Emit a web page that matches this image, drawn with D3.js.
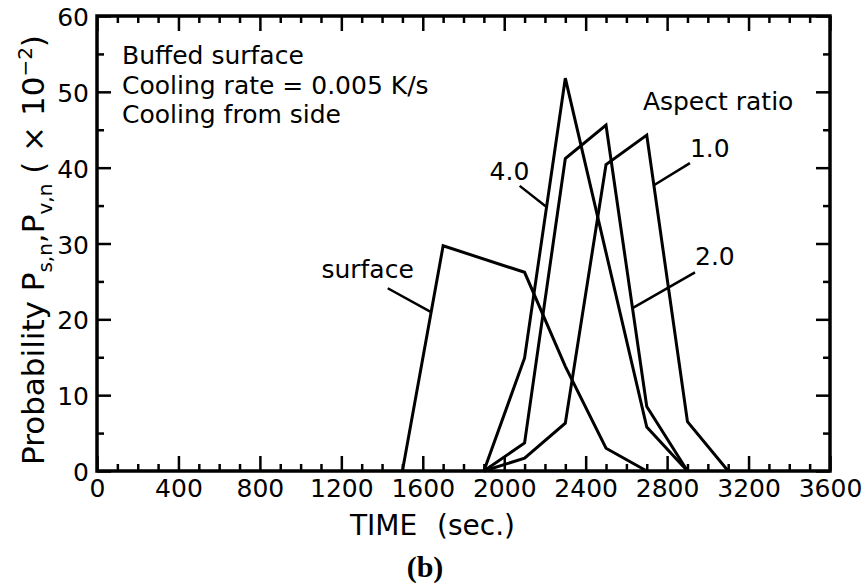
<!DOCTYPE html>
<html>
<head>
<meta charset="utf-8">
<script src="https://cdn.jsdelivr.net/npm/d3@7"></script>
<style>
  body { margin: 0; background: #fff; }
  text { font-family: "DejaVu Sans", sans-serif; fill: #000; }
</style>
</head>
<body>
<div id="chart"></div>
<script>
// probability curves (time in sec, probability x 10^-2)
const surfaceTime = [1500, 1700, 2100, 2300, 2500, 2700];
const surfaceProb = [0, 29.7, 26.2, 13.8, 3.0, 0];

const ar40Time = [1900, 2100, 2300, 2500, 2700, 2900];
const ar40Prob = [0, 14.9, 51.8, 28.8, 5.8, 0];

const ar20Time = [1900, 2100, 2300, 2500, 2700, 2900];
const ar20Prob = [0, 3.7, 41.2, 45.6, 8.5, 0];

const ar10Time = [1900, 2100, 2300, 2500, 2700, 2900, 3100];
const ar10Prob = [0, 1.7, 6.3, 40.4, 44.3, 6.5, 0];

const xTicks = [0, 400, 800, 1200, 1600, 2000, 2400, 2800, 3200, 3600];
const yTicks = [0, 10, 20, 30, 40, 50, 60];

const notes = ["Buffed surface", "Cooling rate = 0.005 K/s", "Cooling from side"];

// curve labels: text anchor, leader start and the time where the leader meets the curve
const curveLabels = [
  {name: "surface", text: "surface", tx: 1102, ty: 25.5, lx: 1428, ly: 24.1, at: 1641},
  {name: "4.0", text: "4.0", tx: 1928, ty: 38.4, lx: 2076, ly: 37.6, at: 2208},
  {name: "1.0", text: "1.0", tx: 2912, ty: 41.4, lx: 2912, ly: 40.6, at: 2735},
  {name: "2.0", text: "2.0", tx: 2937, ty: 27.2, lx: 2937, ly: 26.2, at: 2630}
];

const series = [
  {name: "surface", t: surfaceTime, p: surfaceProb},
  {name: "4.0", t: ar40Time, p: ar40Prob},
  {name: "2.0", t: ar20Time, p: ar20Prob},
  {name: "1.0", t: ar10Time, p: ar10Prob}
];

const width = 865, height = 586;
const plotL = 97, plotR = 830, plotT = 16, plotB = 471;

const svg = d3.select("#chart").append("svg")
  .attr("width", width)
  .attr("height", height);

const x = d3.scaleLinear().domain([0, 3600]).range([plotL, plotR]);
const y = d3.scaleLinear().domain([0, 60]).range([plotB, plotT]);

const xMinor = d3.range(0, 3601, 100).filter(d => d % 400 !== 0);
const yMinor = d3.range(5, 60, 10);

// minor ticks on all four sides
svg.append("g").attr("transform", `translate(0,${plotB})`)
  .call(d3.axisBottom(x).tickValues(xMinor).tickSize(-7).tickFormat(""));
svg.append("g").attr("transform", `translate(0,${plotT})`)
  .call(d3.axisTop(x).tickValues(xMinor).tickSize(-7).tickFormat(""));
svg.append("g").attr("transform", `translate(${plotL},0)`)
  .call(d3.axisLeft(y).tickValues(yMinor).tickSize(-7).tickFormat(""));
svg.append("g").attr("transform", `translate(${plotR},0)`)
  .call(d3.axisRight(y).tickValues(yMinor).tickSize(-7).tickFormat(""));

// major ticks
svg.append("g").attr("transform", `translate(0,${plotB})`)
  .call(d3.axisBottom(x).tickValues(xTicks).tickSize(-15).tickPadding(8)
    .tickFormat(d3.format("d")));
svg.append("g").attr("transform", `translate(0,${plotT})`)
  .call(d3.axisTop(x).tickValues(xTicks).tickSize(-15).tickFormat(""));
const yAxis = svg.append("g").attr("transform", `translate(${plotL},0)`)
  .call(d3.axisLeft(y).tickValues(yTicks).tickSize(-14).tickPadding(8)
    .tickFormat(d3.format("d")));
svg.append("g").attr("transform", `translate(${plotR},0)`)
  .call(d3.axisRight(y).tickValues(yTicks).tickSize(-14).tickFormat(""));

svg.selectAll(".domain").remove();
svg.selectAll(".tick line").attr("stroke", "#000").attr("stroke-width", 2.5);
svg.selectAll(".tick text").attr("font-size", 25).attr("fill", "#000")
  .attr("font-family", "DejaVu Sans");
yAxis.selectAll(".tick text").attr("dy", "0.38em");

// frame
svg.append("rect")
  .attr("x", plotL).attr("y", plotT)
  .attr("width", plotR - plotL).attr("height", plotB - plotT)
  .attr("fill", "none").attr("stroke", "#000").attr("stroke-width", 3.5);

// curves
const line = d3.line().x(d => x(d[0])).y(d => y(d[1]));
svg.selectAll(".curve")
  .data(series)
  .enter().append("path")
  .attr("class", "curve")
  .attr("d", s => line(s.t.map((t, i) => [t, s.p[i]])))
  .attr("fill", "none")
  .attr("stroke", "#000")
  .attr("stroke-width", 3)
  .attr("stroke-linejoin", "miter");

// point on a curve at a given time
function probAt(name, t) {
  const s = series.find(d => d.name === name);
  return d3.scaleLinear().domain(s.t).range(s.p)(t);
}

// curve labels with leaders
curveLabels.forEach(l => {
  svg.append("line")
    .attr("x1", x(l.lx)).attr("y1", y(l.ly))
    .attr("x2", x(l.at)).attr("y2", y(probAt(l.name, l.at)))
    .attr("stroke", "#000").attr("stroke-width", 2.5);
  svg.append("text")
    .attr("x", x(l.tx)).attr("y", y(l.ty))
    .attr("font-size", 25)
    .text(l.text);
});

svg.append("text")
  .attr("x", x(2681)).attr("y", y(47.6))
  .attr("font-size", 25)
  .text("Aspect ratio");

// notes in upper left
svg.selectAll(".note")
  .data(notes)
  .enter().append("text")
  .attr("class", "note")
  .attr("x", 122)
  .attr("y", (d, i) => 64 + i * 29.5)
  .attr("font-size", 25)
  .text(d => d);

// axis titles
const xt = svg.append("text").attr("y", 535).attr("font-size", 28);
xt.append("tspan").attr("x", 350).text("TIME");
xt.append("tspan").attr("x", 437).text("(sec.)");

const yt = svg.append("text")
  .attr("transform", "translate(44,250) rotate(-90)")
  .attr("text-anchor", "middle")
  .attr("font-size", 31);
yt.append("tspan").text("Probability P");
yt.append("tspan").attr("font-size", 20).attr("dy", 8).text("s,n");
yt.append("tspan").attr("dy", -8).text(",P");
yt.append("tspan").attr("font-size", 20).attr("dy", 8).text("v,n");
yt.append("tspan").attr("dy", -8).text(" ( × 10");
yt.append("tspan").attr("font-size", 20).attr("dy", -12).text("−2");
yt.append("tspan").attr("dy", 12).text(")");

svg.append("text")
  .attr("x", 425).attr("y", 577)
  .attr("text-anchor", "middle")
  .style("font-family", "'Liberation Serif', serif")
  .style("font-weight", "bold")
  .attr("font-size", 30)
  .text("(b)");
</script>
</body>
</html>
